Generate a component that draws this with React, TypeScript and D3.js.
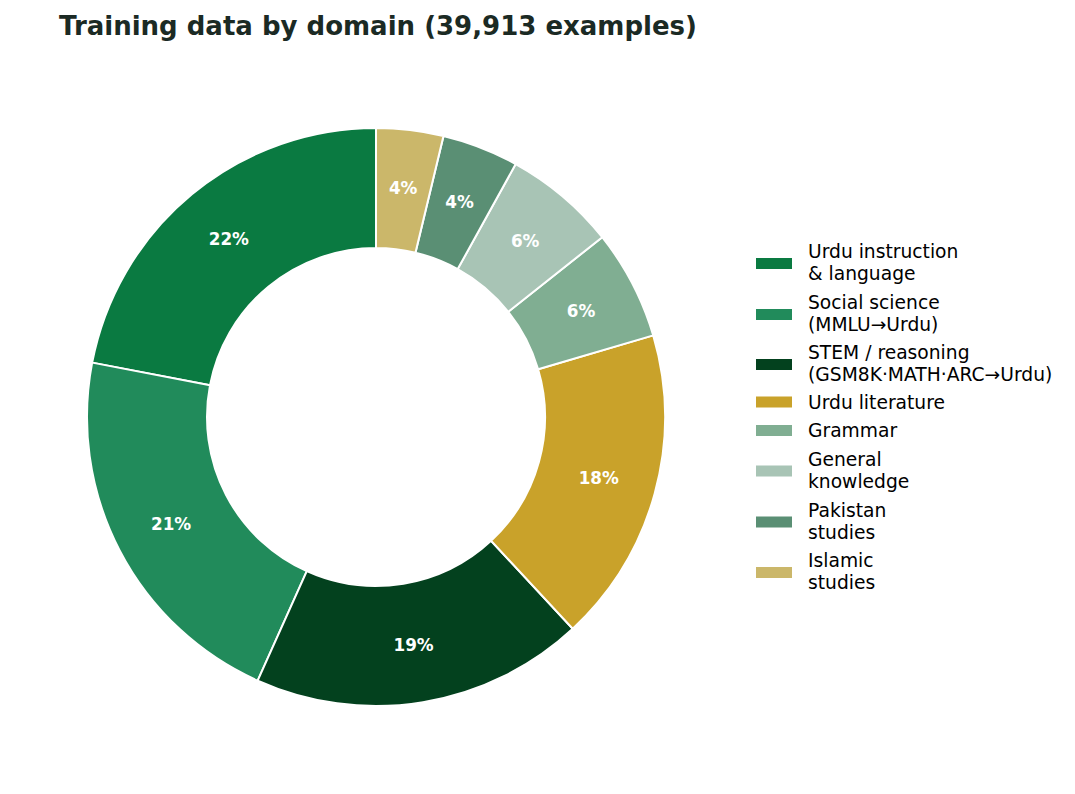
import { useEffect, useRef } from "react";
import * as d3 from "d3";

const domains = [
    ["Urdu instruction", "& language"],
    ["Social science", "(MMLU→Urdu)"],
    ["STEM / reasoning", "(GSM8K·MATH·ARC→Urdu)"],
    ["Urdu literature"],
    ["Grammar"],
    ["General", "knowledge"],
    ["Pakistan", "studies"],
    ["Islamic", "studies"],
];
const counts = [8776, 8501, 7436, 7041, 2447, 2507, 1708, 1497];
const colors = ["#0a7a41", "#218b5b", "#03411e", "#c9a22a", "#80ae92", "#a8c4b5", "#5a8f74", "#cbb76a"];

const W = 1075;
const H = 794;

export default function App() {
    const svgRef = useRef<SVGSVGElement | null>(null);

    useEffect(() => {
        const svg = d3.select(svgRef.current);
        svg.selectAll("*").remove();
        svg.attr("width", W).attr("height", H);

        const font = "'DejaVu Sans', sans-serif";
        const cx = 376, cy = 417;
        const outer = 289, inner = 169;
        const total = d3.sum(counts);

        svg.append("text")
            .attr("x", 59)
            .attr("y", 35)
            .attr("font-family", font)
            .attr("font-weight", "bold")
            .attr("font-size", 26)
            .attr("fill", "#1b2a24")
            .text(`Training data by domain (${d3.format(",")(total)} examples)`);

        // start at top, go counter-clockwise like matplotlib
        const pie = d3.pie<number>().sort(null).startAngle(0).endAngle(-2 * Math.PI);
        const arcs = pie(counts);
        const arc = d3.arc<d3.PieArcDatum<number>>().innerRadius(inner).outerRadius(outer);
        const labelArc = d3.arc<d3.PieArcDatum<number>>().innerRadius(231).outerRadius(231);

        const g = svg.append("g").attr("transform", `translate(${cx},${cy})`);
        g.selectAll("path")
            .data(arcs)
            .join("path")
            .attr("d", arc)
            .attr("fill", (d, i) => colors[i])
            .attr("stroke", "#ffffff")
            .attr("stroke-width", 2)
            .attr("stroke-linejoin", "round");

        g.selectAll("text.pct")
            .data(arcs)
            .join("text")
            .attr("class", "pct")
            .attr("transform", d => `translate(${labelArc.centroid(d)})`)
            .attr("text-anchor", "middle")
            .attr("dy", "0.36em")
            .attr("font-family", font)
            .attr("font-weight", "bold")
            .attr("font-size", 16.8)
            .attr("fill", "#ffffff")
            .text(d => `${Math.round((d.value / total) * 100)}%`);

        // legend
        const rowCenters = [263.5, 314.5, 364.5, 402, 430.5, 471, 522, 572.5];
        const lg = svg.append("g");
        domains.forEach((lines, i) => {
            const yc = rowCenters[i];
            lg.append("rect")
                .attr("x", 756)
                .attr("y", yc - 5.5)
                .attr("width", 36)
                .attr("height", 11)
                .attr("fill", colors[i]);
            const t = lg.append("text")
                .attr("font-family", font)
                .attr("font-size", 18.7)
                .attr("fill", "#000000");
            const base = lines.length === 1 ? yc + 6.5 : yc - 5.5;
            lines.forEach((ln, j) => {
                t.append("tspan")
                    .attr("x", 808)
                    .attr("y", base + j * 22)
                    .text(ln);
            });
        });
    }, []);

    return (
        <svg
            ref={svgRef}
            style={{ position: "absolute", left: 0, top: 0, background: "#ffffff" }}
        />
    );
}
